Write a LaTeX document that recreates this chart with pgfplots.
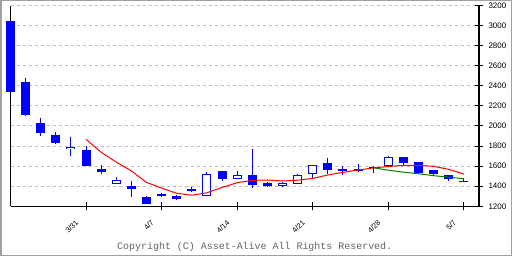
\documentclass[border=0pt]{standalone}
\usepackage{pgfplots}
\usepackage{pgfplotstable}
\pgfplotsset{compat=1.18}
\usepackage{fontspec}
\setmainfont{Liberation Sans}
\newfontfamily\monofont{Liberation Mono}
\definecolor{cblue}{RGB}{0,0,255}
\definecolor{cred}{RGB}{255,0,0}
\definecolor{cgreen}{RGB}{0,128,0}
\definecolor{gridgray}{RGB}{190,190,190}
\definecolor{framegray}{RGB}{160,160,160}
\definecolor{copygray}{RGB}{100,100,100}

% x high low bodyhigh bodylow
\pgfplotstableread{
x hi lo bhi blo
0 3044 2340 3044 2340
1 2477 2097 2436 2107
2 2083 1904 2033 1934
3 1944 1825 1914 1834
4 1894 1705 1795 1773
5 1800 1601 1760 1601
6 1611 1521 1571 1541
7 1492 1425 1462 1425
8 1452 1293 1402 1372
9 1302 1223 1293 1223
10 1335 1295 1325 1302
11 1315 1260 1302 1276
12 1389 1339 1375 1352
13 1541 1305 1521 1305
14 1551 1455 1551 1475
15 1551 1475 1508 1475
16 1770 1385 1508 1415
17 1445 1392 1429 1402
18 1445 1392 1432 1405
19 1521 1425 1508 1425
20 1608 1479 1608 1524
21 1680 1521 1631 1561
22 1601 1508 1571 1548
23 1621 1541 1571 1551
24 1601 1531 1594 1578
25 1698 1598 1688 1598
26 1690 1611 1690 1631
27 1641 1534 1641 1534
28 1558 1501 1558 1521
29 1508 1449 1508 1469
30 1472 1439 1452 1439
}\candles

% hollow (rising) candles
\pgfplotstableread{
x bhi blo
4 1795 1773
7 1462 1425
13 1521 1305
15 1508 1475
18 1432 1405
19 1508 1425
20 1608 1524
25 1688 1598
}\hollow

\pgfplotstableread{
x y
5 1867
6 1738
7 1640
8 1552
9 1438
10 1381
11 1330
12 1310
13 1335
14 1388
15 1435
16 1458
17 1462
18 1452
19 1460
20 1478
21 1512
22 1538
23 1562
24 1582
25 1596
26 1608
27 1608
28 1598
29 1568
30 1521
}\mafive

\pgfplotstableread{
x y
24 1584
25 1560
26 1540
27 1524
28 1505
29 1490
30 1475
}\matwentyfive

\begin{document}
\begin{tikzpicture}
\useasboundingbox (0,0) rectangle (512bp,256bp);
\fill[white] (0,0) rectangle (512bp,256bp);
\draw[framegray, line width=1.5bp] (0.75bp,0.75bp) rectangle (511.25bp,255.25bp);
\begin{axis}[
  at={(10.5bp,49.7bp)}, anchor=south west,
  scale only axis, width=468.5bp, height=200.8bp,
  xmin=0, xmax=31, ymin=1200, ymax=3200,
  clip=false,
  axis x line*=bottom, axis y line*=box,
  axis line style={-, black, line width=1.2bp},
  xtick={5,10,15,20,25,30},
  xticklabels={3/31,4/7,4/14,4/21,4/28,5/7},
  ytick={1200,1400,...,3200},
  ytick pos=right, yticklabel pos=right,
  tick align=center,
  major tick length=8bp,
  tick style={black, line width=1bp},
  ymajorgrids,
  major grid style={gridgray, line width=1bp, dash pattern=on 3bp off 3bp},
  /pgf/number format/assume math mode=true,
  /pgf/number format/1000 sep={},
  yticklabel style={font=\fontsize{8}{9}\selectfont, anchor=west, xshift=2bp},
  xticklabel style={font=\fontsize{7.5}{9}\selectfont, anchor=east, inner sep=0pt, xshift=-9bp, yshift=-11bp, rotate=45},
]
% wicks
\addplot[draw=none, forget plot,
  error bars/.cd, y dir=minus, y explicit, error mark=none,
  error bar style={draw=cblue, line width=1bp}]
  table[x=x, y=hi, y error minus expr=\thisrow{hi}-\thisrow{lo}] {\candles};
% bodies
\addplot[draw=none, forget plot,
  error bars/.cd, y dir=minus, y explicit, error mark=none,
  error bar style={draw=cblue, line width=9bp}]
  table[x=x, y=bhi, y error minus expr=\thisrow{bhi}-\thisrow{blo}] {\candles};
% hollow interiors
\addplot[draw=none, forget plot,
  error bars/.cd, y dir=minus, y explicit, error mark=none,
  error bar style={draw=white, line width=7bp}]
  table[x=x, y expr=\thisrow{bhi}-10, y error minus expr=\thisrow{bhi}-\thisrow{blo}-20] {\hollow};
% moving averages
\addplot[cred, line width=1bp, mark=none] table[x=x,y=y] {\mafive};
\addplot[cgreen, line width=1bp, mark=none] table[x=x,y=y] {\matwentyfive};
\end{axis}
\node[anchor=base west, copygray, inner sep=0pt, font=\monofont\fontsize{10}{12}\selectfont] at (117bp,6.5bp) {Copyright (C) Asset-Alive All Rights Reserved.};
\end{tikzpicture}
\end{document}
